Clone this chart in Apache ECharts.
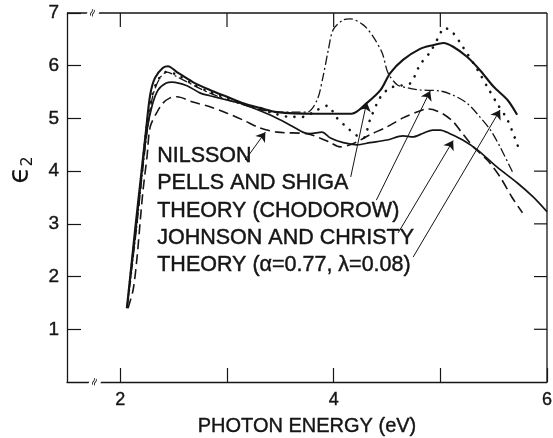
<!DOCTYPE html>
<html><head><meta charset="utf-8">
<script src="https://cdn.jsdelivr.net/npm/echarts@6/dist/echarts.min.js"></script>
<style>html,body{margin:0;padding:0;background:#fff}#c{width:553px;height:438px}</style>
</head><body><div id="c"></div>
<script>
// Photon energy (eV) vs epsilon_2
const pellsShiga = [[2.063,1.42],[2.138,2.88],[2.200,4.02],[2.241,4.78],[2.28,5.45],[2.325,5.77],[2.40,5.96],[2.447,5.99],[2.53,5.88],[2.68,5.69],[2.84,5.54],[3.0,5.41],[3.15,5.29],[3.31,5.20],[3.47,5.12],[3.81,5.09],[4.17,5.09],[4.31,5.29],[4.44,5.54],[4.53,5.86],[4.65,6.11],[4.81,6.32],[4.93,6.39],[5.03,6.43],[5.12,6.36],[5.25,6.17],[5.37,5.92],[5.50,5.60],[5.63,5.35],[5.72,5.07]];
const chodorow = [[2.063,1.42],[2.150,2.88],[2.210,4.02],[2.26,4.88],[2.307,5.45],[2.372,5.77],[2.438,5.88],[2.53,5.79],[2.84,5.48],[3.15,5.26],[3.47,5.12],[3.75,5.12],[3.845,5.35],[3.90,5.79],[3.95,6.30],[3.995,6.68],[4.09,6.87],[4.155,6.89],[4.28,6.77],[4.37,6.55],[4.455,6.24],[4.51,5.86],[4.595,5.64],[4.69,5.58],[4.81,5.54],[5.0,5.52],[5.12,5.44],[5.25,5.29],[5.37,5.03],[5.47,4.78],[5.56,4.46],[5.68,3.97]];
const theoryAlpha = [[2.063,1.42],[2.145,2.88],[2.204,4.02],[2.25,4.88],[2.30,5.45],[2.354,5.73],[2.43,5.88],[2.53,5.83],[2.68,5.65],[2.84,5.50],[3.15,5.28],[3.40,5.12],[3.59,5.03],[3.71,5.03],[3.845,5.16],[3.94,5.24],[4.03,5.01],[4.13,4.82],[4.22,4.67],[4.28,4.63],[4.34,4.97],[4.44,5.41],[4.53,5.58],[4.62,5.62],[4.72,5.67],[4.81,6.02],[4.905,6.26],[4.98,6.53],[5.04,6.72],[5.12,6.62],[5.21,6.36],[5.35,5.92],[5.44,5.60],[5.53,5.29],[5.63,4.97],[5.73,4.46]];
const johnsonChristy = [[2.063,1.42],[2.145,2.88],[2.204,4.02],[2.25,4.78],[2.30,5.26],[2.354,5.54],[2.43,5.67],[2.485,5.69],[2.625,5.62],[2.75,5.48],[2.84,5.43],[3.0,5.35],[3.15,5.27],[3.40,5.07],[3.56,4.91],[3.71,4.74],[3.78,4.71],[3.89,4.74],[3.97,4.63],[4.09,4.54],[4.22,4.50],[4.34,4.54],[4.50,4.59],[4.65,4.67],[4.745,4.65],[4.84,4.72],[4.93,4.78],[5.0,4.78],[5.09,4.71],[5.21,4.59],[5.35,4.40],[5.53,4.08],[5.72,3.78],[5.87,3.51],[6.0,3.23]];
const nilsson = [[2.072,1.40],[2.12,1.75],[2.157,2.37],[2.185,3.02],[2.213,3.64],[2.25,4.27],[2.28,4.84],[2.344,5.12],[2.40,5.29],[2.466,5.39],[2.53,5.41],[2.68,5.31],[2.84,5.22],[3.0,5.10],[3.15,4.97],[3.31,4.82],[3.47,4.74],[3.75,4.71],[3.87,4.63],[3.97,4.54],[4.06,4.46],[4.155,4.50],[4.25,4.59],[4.34,4.69],[4.50,4.84],[4.65,5.01],[4.78,5.12],[4.88,5.18],[4.93,5.17],[5.03,5.08],[5.12,4.94],[5.19,4.76],[5.31,4.46],[5.44,4.21],[5.56,3.89],[5.67,3.51],[5.77,3.21]];

const labels = ['NILSSON','PELLS AND SHIGA','THEORY (CHODOROW)','JOHNSON AND CHRISTY','THEORY (\u03B1=0.77, \u03BB=0.08)'];
const arrowTails = [[3.17,4.21],[4.16,3.89],[4.40,3.45],[4.605,2.83],[4.745,2.37]];
const arrowTips  = [[3.36,4.74],[4.31,5.31],[4.905,5.52],[5.12,4.58],[5.56,5.16]];
const xTicks = [2,3,4,5,6];
const xTickLabels = [2,4,6];
const yTicks = [1,2,3,4,5,6,7];
const topTicks = [2,3,4,5];
const rightTicks = [1,2,3,4,5,6];

const INK = '#151515';
const FONT = 'Liberation Sans';
const chart = echarts.init(document.getElementById('c'), null, {renderer:'canvas'});

function baseLine(name, data, width, type, extra){
  return Object.assign({
    name, type:'line', data, symbol:'none', smooth:0.3,
    lineStyle:{color:INK, width, type}, silent:true, z:3
  }, extra||{});
}
const tickStyle = {color:INK, width:1.2};
const labelStyle = {color:INK, fontFamily:FONT, textBorderColor:INK, textBorderWidth:0.4};

const baseGraphic = labels.map((s,i)=>({
    type:'text', left:157, top:145 + i*27.2,
    style:{text:s, fill:INK, stroke:INK, lineWidth:0.45, font:'21.5px "'+FONT+'"'}
  })).concat([
    {type:'group', x:21, y:170, rotation:Math.PI/2, children:[
      {type:'text', x:0, y:0,
       style:{text:'\u03F5{s|2}', fill:INK, font:'28px "DejaVu Sans"', align:'center', verticalAlign:'middle',
         rich:{s:{fontSize:16, fontFamily:'DejaVu Sans', padding:[14,0,0,0]}}}}
    ]}
  ]);

const option = {
  animation:false,
  backgroundColor:'#fff',
  grid:{left:67, top:13, right:6, bottom:56, containLabel:false, outerBoundsMode:'none'},
  xAxis:{
    type:'value', min:1.5, max:6, interval:0.5, position:'bottom',
    axisLine:{show:true, onZero:false, lineStyle:{color:INK, width:1.3}},
    axisTick:{show:true, inside:true, length:14, customValues:xTicks, lineStyle:tickStyle},
    axisLabel:Object.assign({show:true, customValues:xTickLabels, fontSize:18, margin:9}, labelStyle),
    splitLine:{show:false},
    name:'PHOTON ENERGY (eV)', nameLocation:'middle', nameGap:34,
    nameTextStyle:Object.assign({fontSize:20}, labelStyle)
  },
  yAxis:{
    type:'value', min:0, max:7, interval:1, position:'left',
    axisLine:{show:true, onZero:false, lineStyle:{color:INK, width:1.3}},
    axisTick:{show:true, inside:true, length:14, customValues:yTicks, lineStyle:tickStyle},
    axisLabel:Object.assign({show:true, customValues:yTicks, fontSize:19, margin:8}, labelStyle),
    splitLine:{show:false}
  },
  series:[
    baseLine('Nilsson', nilsson, 1.6, [10,5]),
    baseLine('Pells and Shiga', pellsShiga, 2.1, 'solid'),
    baseLine('Theory (Chodorow)', chodorow, 1.3, [9,3,2,3]),
    baseLine('Johnson and Christy', johnsonChristy, 1.7, 'solid'),
    baseLine('Theory (alpha, lambda)', theoryAlpha, 2.6, [0.1,8.5], {lineStyle:{color:INK, width:2.6, type:[0.1,8.5], cap:'round'}}),
    {
      name:'arrows', type:'line', data:[], silent:true,
      markLine:{
        silent:true, symbol:['none','arrow'], symbolSize:9, precision:4,
        label:{show:false}, emphasis:{disabled:true},
        itemStyle:{color:INK},
        lineStyle:{color:INK, width:1, type:'solid'},
        data: arrowTails.map((t,i)=>[{coord:t},{coord:arrowTips[i]}])
      }
    }
  ],
  graphic: baseGraphic
};
chart.setOption(option);

// Frame (top and right sides) with inward ticks, positioned through the axes' own scales
const px = v => chart.convertToPixel({xAxisIndex:0}, v);
const py = v => chart.convertToPixel({yAxisIndex:0}, v);
const X0 = px(1.5), X1 = px(6), Y0 = py(0), Y1 = py(7);
const ls = {stroke:INK, lineWidth:1.3};
const frame = [
  {type:'line', shape:{x1:X0, y1:Y1, x2:X1, y2:Y1}, style:ls, z:10},
  {type:'line', shape:{x1:X1, y1:Y1, x2:X1, y2:Y0}, style:ls, z:10}
];
topTicks.forEach(v=>frame.push({type:'line', shape:{x1:px(v), y1:Y1, x2:px(v), y2:Y1+14}, style:{stroke:INK, lineWidth:1.2}, z:10}));
rightTicks.forEach(v=>frame.push({type:'line', shape:{x1:X1-13, y1:py(v), x2:X1, y2:py(v)}, style:{stroke:INK, lineWidth:1.2}, z:10}));
// axis-break marks on the bottom and top edges
const bx = px(1.763);
frame.push({type:'text', x:bx, y:Y0, rotation:Math.PI/2.6, z:11,
  style:{text:'\u2248', fill:INK, font:'11px "DejaVu Sans"', align:'center', verticalAlign:'middle', backgroundColor:'#fff'}});
frame.push({type:'text', x:bx-2, y:Y1, rotation:Math.PI/2.6, z:11,
  style:{text:'\u2248', fill:INK, font:'11px "DejaVu Sans"', align:'center', verticalAlign:'middle', backgroundColor:'#fff'}});
chart.setOption({graphic: baseGraphic.concat(frame)});
</script></body></html>
